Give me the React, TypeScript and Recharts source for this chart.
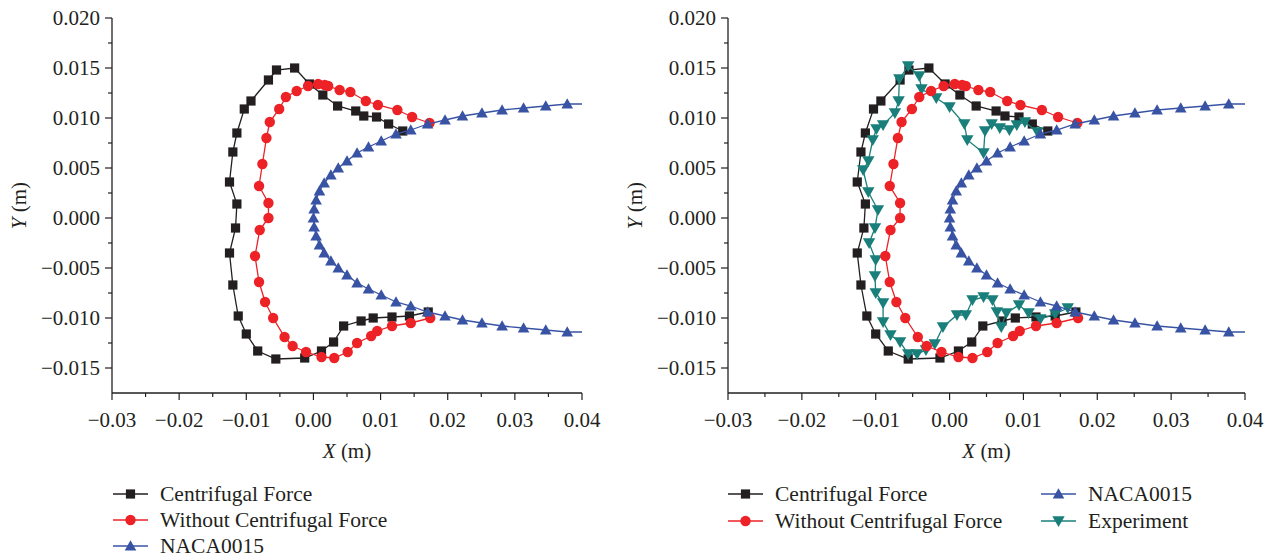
import React from 'react';
import { ScatterChart, Scatter, XAxis, YAxis } from 'recharts';

// ---------- data ----------
const centrifugalX = [0.0133, 0.0112, 0.0094, 0.0075, 0.0063, 0.0036, 0.0014, -0.0006, -0.0028, -0.0055, -0.0067, -0.0093, -0.0103, -0.0114, -0.0120, -0.0125, -0.0114, -0.0116, -0.0125, -0.0120, -0.0112, -0.0100, -0.0083, -0.0056, -0.0013, 0.0012, 0.0030, 0.0045, 0.0071, 0.0089, 0.0117, 0.0143, 0.0171];
const centrifugalY = [0.0087, 0.0094, 0.0101, 0.0102, 0.0107, 0.0112, 0.0123, 0.0134, 0.0150, 0.0148, 0.0138, 0.0117, 0.0109, 0.0085, 0.0066, 0.0036, 0.0014, -0.0010, -0.0035, -0.0067, -0.0098, -0.0116, -0.0133, -0.0141, -0.0140, -0.0133, -0.0124, -0.0108, -0.0103, -0.0100, -0.0099, -0.0098, -0.0094];

const withoutX = [0.0173, 0.0147, 0.0125, 0.0096, 0.0078, 0.0055, 0.0039, 0.0022, 0.0017, 0.0007, -0.0008, -0.0025, -0.0041, -0.0051, -0.0065, -0.0070, -0.0076, -0.0081, -0.0067, -0.0067, -0.0080, -0.0087, -0.0081, -0.0072, -0.0060, -0.0043, -0.0031, -0.0011, 0.0012, 0.0031, 0.0051, 0.0065, 0.0086, 0.0095, 0.0117, 0.0145, 0.0174];
const withoutY = [0.0095, 0.0101, 0.0108, 0.0113, 0.0117, 0.0126, 0.0128, 0.0132, 0.0133, 0.0134, 0.0132, 0.0127, 0.0121, 0.0109, 0.0096, 0.0080, 0.0054, 0.0032, 0.0015, 0.0000, -0.0012, -0.0038, -0.0064, -0.0084, -0.0100, -0.0119, -0.0128, -0.0134, -0.0139, -0.0140, -0.0134, -0.0125, -0.0118, -0.0113, -0.0108, -0.0105, -0.0100];

const nacaX = [0.0400, 0.0378, 0.0346, 0.0313, 0.0281, 0.0251, 0.0222, 0.0196, 0.0170, 0.0145, 0.0123, 0.0101, 0.0082, 0.0065, 0.0050, 0.0037, 0.0026, 0.0016, 0.0009, 0.0004, 0.0001, 0.0000, 0.0001, 0.0004, 0.0009, 0.0016, 0.0026, 0.0037, 0.0050, 0.0065, 0.0082, 0.0101, 0.0123, 0.0145, 0.0170, 0.0196, 0.0222, 0.0251, 0.0281, 0.0313, 0.0346, 0.0378, 0.0400];
const nacaY = [0.0114, 0.0114, 0.0112, 0.0110, 0.0108, 0.0105, 0.0102, 0.0098, 0.0094, 0.0088, 0.0084, 0.0077, 0.0071, 0.0065, 0.0057, 0.0050, 0.0043, 0.0035, 0.0027, 0.0018, 0.0009, 0.0000, -0.0009, -0.0018, -0.0027, -0.0035, -0.0043, -0.0050, -0.0057, -0.0065, -0.0071, -0.0077, -0.0084, -0.0088, -0.0094, -0.0098, -0.0102, -0.0105, -0.0108, -0.0110, -0.0112, -0.0114, -0.0114];

const experimentX = [0.0119, 0.0102, 0.0091, 0.0081, 0.0068, 0.0057, 0.0048, 0.0046, 0.0024, 0.0020, 0.0000, -0.0018, -0.0038, -0.0041, -0.0056, -0.0068, -0.0069, -0.0074, -0.0090, -0.0099, -0.0104, -0.0110, -0.0117, -0.0110, -0.0097, -0.0101, -0.0109, -0.0100, -0.0101, -0.0100, -0.0090, -0.0090, -0.0080, -0.0067, -0.0056, -0.0044, -0.0032, -0.0020, -0.0009, 0.0010, 0.0022, 0.0031, 0.0046, 0.0058, 0.0064, 0.0070, 0.0077, 0.0094, 0.0107, 0.0123, 0.0143, 0.0160];
const experimentY = [0.0086, 0.0096, 0.0093, 0.0088, 0.0090, 0.0094, 0.0087, 0.0065, 0.0078, 0.0094, 0.0111, 0.0120, 0.0129, 0.0142, 0.0152, 0.0139, 0.0117, 0.0105, 0.0093, 0.0089, 0.0078, 0.0057, 0.0048, 0.0026, 0.0008, -0.0010, -0.0025, -0.0042, -0.0058, -0.0075, -0.0085, -0.0104, -0.0117, -0.0124, -0.0136, -0.0136, -0.0132, -0.0126, -0.0109, -0.0097, -0.0097, -0.0082, -0.0079, -0.0082, -0.0094, -0.0109, -0.0095, -0.0087, -0.0095, -0.0101, -0.0096, -0.0090];

const xTicks = [-0.03, -0.025, -0.02, -0.015, -0.01, -0.005, 0, 0.005, 0.01, 0.015, 0.02, 0.025, 0.03, 0.035, 0.04];
const yTicks = [-0.015, -0.0125, -0.01, -0.0075, -0.005, -0.0025, 0, 0.0025, 0.005, 0.0075, 0.01, 0.0125, 0.015, 0.0175, 0.02];
const xDomain = [-0.03, 0.04];
const yDomain = [-0.0175, 0.02];

const toPoints = (xs: number[], ys: number[]) => xs.map((x, i) => ({ x, y: ys[i] }));
const centrifugalData = toPoints(centrifugalX, centrifugalY);
const withoutData = toPoints(withoutX, withoutY);
const nacaData = toPoints(nacaX, nacaY);
const experimentData = toPoints(experimentX, experimentY);

// ---------- styles ----------
const FONT = '"Liberation Serif", "DejaVu Serif", "Times New Roman", serif';
const INK = '#231f20';
const C_BLACK = '#231f20';
const C_RED = '#ec2227';
const C_BLUE = '#3953a4';
const C_TEAL = '#1a7f7a';

const Square = ({ cx, cy }: any) => <rect x={cx - 4.6} y={cy - 4.6} width={9.2} height={9.2} fill={C_BLACK} />;
const Dot = ({ cx, cy }: any) => <circle cx={cx} cy={cy} r={5.2} fill={C_RED} />;
const UpTri = ({ cx, cy }: any) => (
  <polygon points={`${cx},${cy - 5.8} ${cx - 5.8},${cy + 4.4} ${cx + 5.8},${cy + 4.4}`} fill={C_BLUE} />
);
const DownTri = ({ cx, cy }: any) => (
  <polygon points={`${cx - 6.2},${cy - 4.8} ${cx + 6.2},${cy - 4.8} ${cx},${cy + 6}`} fill={C_TEAL} />
);
const NacaShape = (p: any) => (p.payload && p.payload.x >= 0.0399 ? <g /> : <UpTri cx={p.cx} cy={p.cy} />);

const fmt = (v: number, d: number) => {
  const s = Math.abs(v).toFixed(d);
  return v < -1e-12 ? '\u2212' + s : s;
};
const isMajor = (v: number, mult: number) => Math.abs(v * mult - Math.round(v * mult)) < 1e-6;

const XTick = ({ x, y, payload }: any) => {
  const v = payload.value;
  const major = isMajor(v, 100);
  return (
    <g>
      <line x1={x} x2={x} y1={y} y2={y + (major ? 7 : 4)} stroke={INK} strokeWidth={1.2} />
      {major && (
        <text x={x} y={y + 27} textAnchor="middle" dominantBaseline="central" fontFamily={FONT} fontSize={21} fill={INK}>
          {fmt(v, 2)}
        </text>
      )}
    </g>
  );
};

const YTick = ({ x, y, payload }: any) => {
  const v = payload.value;
  const major = isMajor(v, 200);
  return (
    <g>
      <line x1={x - (major ? 7 : 4)} x2={x} y1={y} y2={y} stroke={INK} strokeWidth={1.2} />
      {major && (
        <text x={x - 12} y={y} textAnchor="end" dominantBaseline="central" fontFamily={FONT} fontSize={21} fill={INK}>
          {fmt(v, 3)}
        </text>
      )}
    </g>
  );
};

const XTitle = (props: any) => {
  const vb = props.viewBox || {};
  return (
    <text x={vb.x + vb.width / 2} y={vb.y + 58} textAnchor="middle" dominantBaseline="central" fontFamily={FONT} fontSize={21} fill={INK}>
      <tspan fontStyle="italic">X</tspan>
      <tspan> (m)</tspan>
    </text>
  );
};

const YTitle = (props: any) => {
  const vb = props.viewBox || {};
  const cx = 19;
  const cy = vb.y + vb.height / 2;
  return (
    <text x={cx} y={cy} transform={`rotate(-90 ${cx} ${cy})`} textAnchor="middle" dominantBaseline="central" fontFamily={FONT} fontSize={21} fill={INK}>
      <tspan fontStyle="italic">Y</tspan>
      <tspan> (m)</tspan>
    </text>
  );
};

const Panel = ({ left, width, rightMargin, withExperiment }: any) => (
  <div style={{ position: 'absolute', left, top: 0 }}>
    <ScatterChart width={width} height={470} margin={{ top: 18, right: rightMargin, bottom: 5, left: 0 }}>
      <XAxis
        type="number"
        dataKey="x"
        domain={xDomain}
        ticks={xTicks}
        interval={0}
        allowDataOverflow
        tickLine={false}
        tickSize={0}
        tickMargin={0}
        tick={<XTick />}
        axisLine={{ stroke: INK, strokeWidth: 1.3 }}
        height={72}
        label={<XTitle />}
      />
      <YAxis
        type="number"
        dataKey="y"
        domain={yDomain}
        ticks={yTicks}
        interval={0}
        allowDataOverflow
        tickLine={false}
        tickSize={0}
        tickMargin={0}
        tick={<YTick />}
        axisLine={{ stroke: INK, strokeWidth: 1.3 }}
        width={112}
        label={<YTitle />}
      />
      <Scatter name="Centrifugal Force" data={centrifugalData} line={{ stroke: C_BLACK, strokeWidth: 1.3 }} shape={Square} isAnimationActive={false} />
      {withExperiment && (
        <Scatter name="Experiment" data={experimentData} line={{ stroke: C_TEAL, strokeWidth: 1.3 }} shape={DownTri} isAnimationActive={false} />
      )}
      <Scatter name="Without Centrifugal Force" data={withoutData} line={{ stroke: C_RED, strokeWidth: 1.3 }} shape={Dot} isAnimationActive={false} />
      <Scatter name="NACA0015" data={nacaData} line={{ stroke: C_BLUE, strokeWidth: 1.3 }} shape={NacaShape} isAnimationActive={false} />
    </ScatterChart>
  </div>
);

const LegendItem = ({ x, y, color, Marker, label }: any) => (
  <g>
    <line x1={x} x2={x + 35} y1={y} y2={y} stroke={color} strokeWidth={1.3} />
    <Marker cx={x + 17.5} cy={y} />
    <text x={x + 47} y={y} dominantBaseline="central" fontFamily={FONT} fontSize={21.5} fill={INK}>
      {label}
    </text>
  </g>
);

export default function App() {
  return (
    <div style={{ position: 'absolute', left: 0, top: 0, width: 1278, height: 560, background: '#fff', overflow: 'hidden' }}>
      <Panel left={0} width={640} rightMargin={58} withExperiment={false} />
      <Panel left={616} width={662} rightMargin={33} withExperiment={true} />
      <svg width={1278} height={560} style={{ position: 'absolute', left: 0, top: 0, pointerEvents: 'none' }}>
        <LegendItem x={113} y={494} color={C_BLACK} Marker={Square} label="Centrifugal Force" />
        <LegendItem x={113} y={520} color={C_RED} Marker={Dot} label="Without Centrifugal Force" />
        <LegendItem x={113} y={546} color={C_BLUE} Marker={UpTri} label="NACA0015" />
        <LegendItem x={728} y={494} color={C_BLACK} Marker={Square} label="Centrifugal Force" />
        <LegendItem x={728} y={521} color={C_RED} Marker={Dot} label="Without Centrifugal Force" />
        <LegendItem x={1041} y={494} color={C_BLUE} Marker={UpTri} label="NACA0015" />
        <LegendItem x={1041} y={521} color={C_TEAL} Marker={DownTri} label="Experiment" />
      </svg>
    </div>
  );
}
